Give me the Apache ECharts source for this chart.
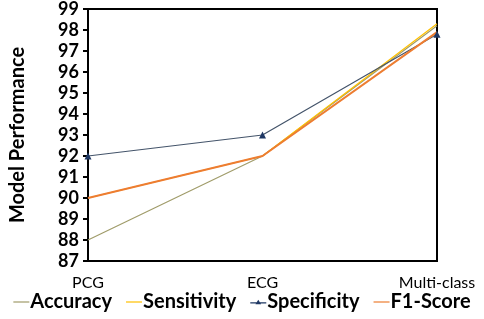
<!DOCTYPE html>
<html>
<head>
<meta charset="utf-8">
<script src="https://cdn.jsdelivr.net/npm/echarts@6/dist/echarts.min.js"></script>
<style>
  body { margin: 0; background: #fff; }
  #chart { width: 484px; height: 319px; }
</style>
</head>
<body>
<div id="chart"></div>
<script>
  // data
  var categories = ['PCG', 'ECG', 'Multi-class'];
  var accuracy = [88, 92, 98.2];
  var sensitivity = [90, 92, 98.3];
  var specificity = [92, 93, 97.8];
  var f1Score = [90, 92, 97.9];

  var myChart = echarts.init(document.getElementById('chart'));
  var font = 'Lato';
  var lineIcon = 'path://M0,9L20,9L20,10.5L0,10.5Z';
  var triIcon = 'path://M0,9L20,9L20,10.5L0,10.5Z M10,6L13.5,11.5L6.5,11.5Z';
  var option = {
    animation: false,
    grid: {
      left: 88, right: 47, top: 7, bottom: 58,
      show: true, borderColor: '#000', borderWidth: 2
    },
    legend: {
      bottom: 2, left: 'center',
      itemWidth: 16, itemHeight: 14, itemGap: 14,
      textStyle: { fontFamily: font, fontWeight: 'bold', fontSize: 20, color: '#000', padding: [0, 0, 0, -4] },
      data: [
        { name: 'Accuracy', icon: lineIcon },
        { name: 'Sensitivity', icon: lineIcon },
        { name: 'Specificity', icon: triIcon },
        { name: 'F1-Score', icon: lineIcon }
      ]
    },
    xAxis: {
      type: 'category',
      boundaryGap: false,
      data: categories,
      axisLine: { lineStyle: { color: '#000', width: 2 } },
      axisTick: { show: false },
      axisLabel: { fontFamily: font, fontSize: 16, color: '#000', margin: 14 }
    },
    yAxis: {
      type: 'value',
      min: 87, max: 99, interval: 1,
      name: 'Model Performance',
      nameLocation: 'middle',
      nameGap: 60,
      nameTextStyle: { fontFamily: font, fontWeight: 'bold', fontSize: 20, color: '#000' },
      axisLine: { show: true, lineStyle: { color: '#000', width: 2 } },
      axisTick: { show: true, length: 5, lineStyle: { color: '#000', width: 2 } },
      splitLine: { show: false },
      axisLabel: { fontFamily: font, fontWeight: 'bold', fontSize: 18, color: '#000', margin: 9 }
    },
    series: [
      { name: 'Accuracy', type: 'line', data: accuracy, symbol: 'none',
        lineStyle: { color: '#a09c6a', width: 1.2 }, itemStyle: { color: '#a09c6a' } },
      { name: 'Sensitivity', type: 'line', data: sensitivity, symbol: 'none',
        lineStyle: { color: '#ffc000', width: 1.2 }, itemStyle: { color: '#ffc000' } },
      { name: 'Specificity', type: 'line', data: specificity, symbol: 'triangle', symbolSize: 7,
        lineStyle: { color: '#44546a', width: 1.2 }, itemStyle: { color: '#1f3864' } },
      { name: 'F1-Score', type: 'line', data: f1Score, symbol: 'none',
        lineStyle: { color: '#ed7d31', width: 2 }, itemStyle: { color: '#ed7d31' } }
    ]
  };
  myChart.setOption(option);
</script>
</body>
</html>
